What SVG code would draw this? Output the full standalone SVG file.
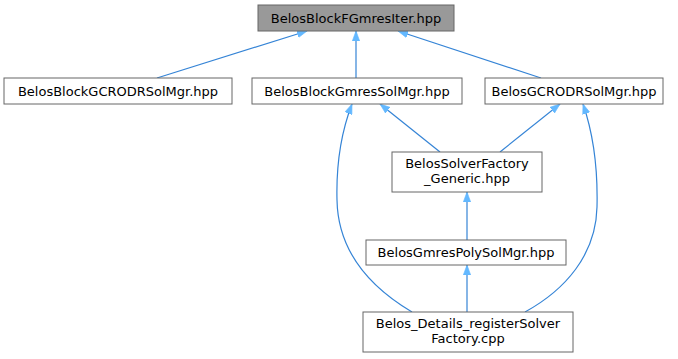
<svg xmlns="http://www.w3.org/2000/svg" width="678" height="359" viewBox="0 0 678 359">
  <style>
    .node rect { fill: #ffffff; stroke: #666666; stroke-width: 1; }
    .node.root rect { fill: #999999; }
    .node text { font-family: "DejaVu Sans", "Liberation Sans", sans-serif; font-size: 13px; fill: #000000; text-anchor: middle; }
    .edge { fill: none; stroke: #3584d6; stroke-width: 1.2; marker-end: url(#arrow); }
  </style>
  <defs>
    <marker id="arrow" markerUnits="userSpaceOnUse" markerWidth="11" markerHeight="8" refX="10" refY="4" orient="auto">
      <path d="M0,0.3 L10,4 L0,7.7 z" fill="#63b8ff" stroke="#63b8ff" stroke-width="0.6"/>
    </marker>
  </defs>

  <!-- include dependency edges: child points up to the header it includes -->
  <g id="edges">
    <path class="edge" d="M157,78 L307,31"/>
    <path class="edge" d="M356,78 L356,31"/>
    <path class="edge" d="M541,78 L398,31"/>
    <path class="edge" d="M440,152 L380,104"/>
    <path class="edge" d="M500,152 L560,104"/>
    <path class="edge" d="M467,240 L467,192"/>
    <path class="edge" d="M467,312 L467,265"/>
    <path class="edge" d="M412,312 C375,290 338,255 337,200 C336,160 342,130 352,104"/>
    <path class="edge" d="M525,312 C565,290 596,255 597,207 C598,165 592,130 583,104"/>
  </g>

  <g id="node-fgmres-iter" class="node root">
    <rect x="258" y="5" width="196" height="26"/>
    <text x="356" y="22.5">BelosBlockFGmresIter.hpp</text>
  </g>
  <g id="node-block-gcrodr" class="node">
    <rect x="4" y="78" width="228" height="26"/>
    <text x="118" y="95.5">BelosBlockGCRODRSolMgr.hpp</text>
  </g>
  <g id="node-block-gmres" class="node">
    <rect x="252" y="78" width="210" height="26"/>
    <text x="357" y="95.5">BelosBlockGmresSolMgr.hpp</text>
  </g>
  <g id="node-gcrodr" class="node">
    <rect x="485" y="78" width="178" height="26"/>
    <text x="574" y="95.5">BelosGCRODRSolMgr.hpp</text>
  </g>
  <g id="node-solver-factory-generic" class="node">
    <rect x="392" y="152" width="150" height="40"/>
    <text x="467" y="168">BelosSolverFactory</text>
    <text x="467" y="183">_Generic.hpp</text>
  </g>
  <g id="node-gmres-poly" class="node">
    <rect x="366" y="240" width="200" height="25"/>
    <text x="466" y="257">BelosGmresPolySolMgr.hpp</text>
  </g>
  <g id="node-register-solver-factory" class="node">
    <rect x="363" y="312" width="210" height="40"/>
    <text x="468" y="328">Belos_Details_registerSolver</text>
    <text x="468" y="343">Factory.cpp</text>
  </g>
</svg>
